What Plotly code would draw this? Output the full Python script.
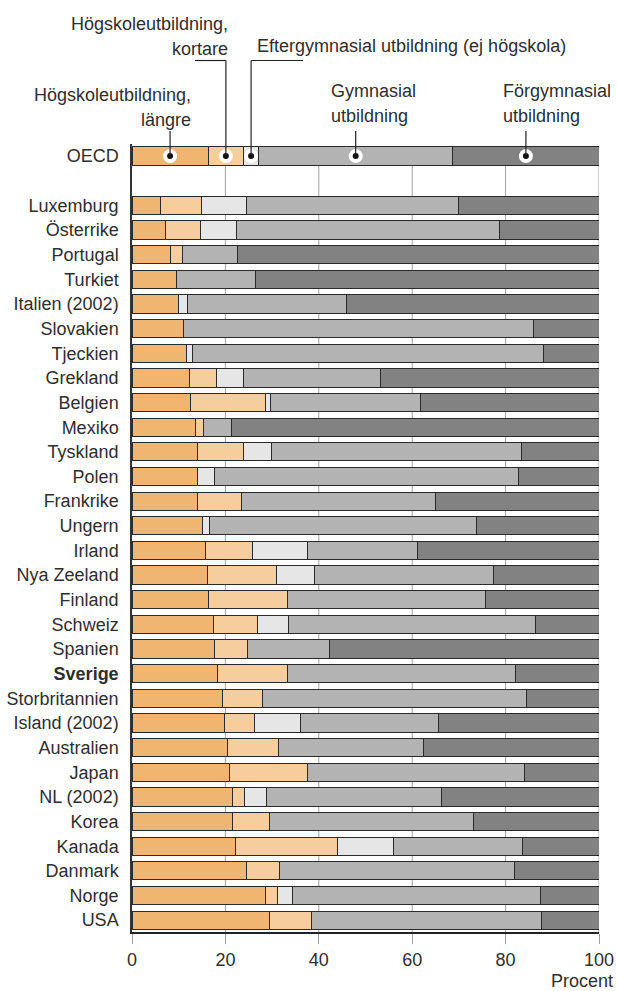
import plotly.graph_objects as go

# ---------------- data ----------------
categories = ["OECD", "Luxemburg", "Österrike", "Portugal", "Turkiet", "Italien (2002)",
              "Slovakien", "Tjeckien", "Grekland", "Belgien", "Mexiko", "Tyskland", "Polen",
              "Frankrike", "Ungern", "Irland", "Nya Zeeland", "Finland", "Schweiz", "Spanien",
              "Sverige", "Storbritannien", "Island (2002)", "Australien", "Japan", "NL (2002)",
              "Korea", "Kanada", "Danmark", "Norge", "USA"]

hogskola_langre = [16.3, 6.0, 7.2, 8.2, 9.6, 10.0, 11.0, 11.6, 12.4, 12.6, 13.6, 14.0, 14.1,
                   14.1, 15.0, 15.7, 16.2, 16.3, 17.4, 17.6, 18.4, 19.3, 19.9, 20.5, 20.8,
                   21.6, 21.6, 22.1, 24.6, 28.5, 29.5]
hogskola_kortare = [7.6, 8.9, 7.4, 2.6, None, None, None, None, 5.6, 16.0, 1.7, 9.9, None,
                    9.3, None, 10.1, 14.7, 17.0, 9.5, 7.1, 15.0, 8.6, 6.4, 10.8, 16.7,
                    2.5, 7.9, 21.9, 6.9, 2.6, 9.0]
eftergymnasial = [3.2, 9.6, 7.7, None, None, 1.8, None, 1.4, 5.8, 1.0, None, 5.9, 3.5,
                  None, 1.7, 11.7, 8.1, None, 6.7, None, None, None, 9.8, None, None,
                  4.6, None, 12.0, None, 3.3, None]
gymnasial = [41.6, 45.4, 56.4, 11.7, 16.9, 34.1, 74.9, 75.2, 29.5, 32.1, 6.1, 53.6, 65.1,
             41.5, 57.1, 23.6, 38.5, 42.5, 52.9, 17.6, 48.8, 56.5, 29.6, 31.2, 46.6,
             37.5, 43.7, 27.7, 50.3, 53.1, 49.1]
forgymnasial = [31.3, 30.1, 21.3, 77.5, 73.5, 54.1, 14.1, 11.8, 46.7, 38.3, 78.6, 16.6, 17.3,
                35.1, 26.2, 38.9, 22.5, 24.2, 13.5, 57.7, 17.8, 15.6, 34.3, 37.5, 15.9,
                33.8, 26.8, 16.3, 18.2, 12.5, 12.4]

series_names = ["Högskoleutbildning, längre", "Högskoleutbildning, kortare",
                "Eftergymnasial utbildning (ej högskola)", "Gymnasial utbildning",
                "Förgymnasial utbildning"]
x_ticks = [0, 20, 40, 60, 80, 100]
x_label = "Procent"
bold_category = "Sverige"

# ---------------- style ----------------
colors = ["#F0B571", "#F6CE9D", "#E6E6E6", "#B3B3B3", "#828282"]
FONT = "Liberation Sans, Arial, sans-serif"
TXT = "#2e2e2e"
W, H = 617, 991
L, R, T, B = 132, 18, 144, 59
PW, PH = W - L - R, H - T - B


def py(pix):  # pixel y -> paper y
    return (H - B - pix) / PH


def pxp(pix):  # pixel x -> paper x
    return (pix - L) / PW


GAP = " "
y_cats = [categories[0], GAP] + categories[1:]


def with_gap(vals):
    return [vals[0], None] + list(vals[1:])


all_series = [hogskola_langre, hogskola_kortare, eftergymnasial, gymnasial, forgymnasial]

fig = go.Figure()
for name, vals, col in zip(series_names, all_series, colors):
    fig.add_trace(go.Bar(
        y=y_cats, x=with_gap(vals), orientation="h", name=name,
        marker=dict(color=col, line=dict(color="#2a2a2a", width=1)),
        showlegend=False, hoverinfo="x+name"))

# marker dots on OECD bar (segment midpoints)
mids = []
cum = 0.0
for vals in all_series:
    v = vals[0] or 0
    mids.append(cum + v / 2)
    cum += v

fig.add_trace(go.Scatter(x=mids, y=[categories[0]] * len(mids), mode="markers",
                         marker=dict(size=14, color="white"), cliponaxis=False,
                         showlegend=False, hoverinfo="skip"))
fig.add_trace(go.Scatter(x=mids, y=[categories[0]] * len(mids), mode="markers",
                         marker=dict(size=6, color="#111111"), cliponaxis=False,
                         showlegend=False, hoverinfo="skip"))

shapes = []
# grid lines (below OECD bar down to axis)
for t in x_ticks[1:]:
    shapes.append(dict(type="line", xref="x", yref="paper", x0=t, x1=t,
                       y0=0, y1=py(165.5), line=dict(color="#a0a0a0", width=1),
                       layer="below"))

# leader lines
LINE = dict(color="#222222", width=1.2)
dot_y = py(156)
top_short = py(131)
top_long = py(60.5)
shapes.append(dict(type="line", xref="paper", yref="paper", x0=mids[0] / 100, x1=mids[0] / 100,
                   y0=top_short, y1=dot_y, line=LINE))
shapes.append(dict(type="line", xref="paper", yref="paper", x0=mids[1] / 100, x1=mids[1] / 100,
                   y0=top_long, y1=dot_y, line=LINE))
shapes.append(dict(type="line", xref="paper", yref="paper", x0=pxp(195), x1=mids[1] / 100,
                   y0=top_long, y1=top_long, line=LINE))
shapes.append(dict(type="line", xref="paper", yref="paper", x0=mids[2] / 100, x1=mids[2] / 100,
                   y0=top_long, y1=dot_y, line=LINE))
shapes.append(dict(type="line", xref="paper", yref="paper", x0=mids[2] / 100, x1=pxp(303),
                   y0=top_long, y1=top_long, line=LINE))
shapes.append(dict(type="line", xref="paper", yref="paper", x0=mids[3] / 100, x1=mids[3] / 100,
                   y0=top_short, y1=dot_y, line=LINE))
shapes.append(dict(type="line", xref="paper", yref="paper", x0=mids[4] / 100, x1=mids[4] / 100,
                   y0=top_short, y1=dot_y, line=LINE))

label_lines = [
    ("Högskoleutbildning,", 230, 24, "right"),
    ("kortare", 230, 49, "right"),
    ("Eftergymnasial utbildning (ej högskola)", 255, 46, "left"),
    ("Högskoleutbildning,", 193, 95, "right"),
    ("längre", 193, 120, "right"),
    ("Gymnasial", 329, 91, "left"),
    ("utbildning", 329, 116, "left"),
    ("Förgymnasial", 501, 91, "left"),
    ("utbildning", 501, 116, "left"),
]
annotations = []
for text, xpix, ypix, anchor in label_lines:
    annotations.append(dict(text=text, xref="paper", yref="paper", x=pxp(xpix), y=py(ypix),
                            xanchor=anchor, yanchor="middle", showarrow=False,
                            font=dict(family=FONT, size=18, color=TXT)))
annotations.append(dict(text=x_label, xref="paper", yref="paper", x=pxp(615), y=py(981),
                        xanchor="right", yanchor="middle", showarrow=False,
                        font=dict(family=FONT, size=18, color=TXT)))

ticktext = [("<b>%s</b>" % c) if c == bold_category else c for c in y_cats]

fig.update_layout(
    width=W, height=H, barmode="stack", bargap=0.26,
    margin=dict(l=L, r=R, t=T, b=B, autoexpand=False),
    paper_bgcolor="white", plot_bgcolor="white",
    font=dict(family=FONT, size=18, color=TXT),
    shapes=shapes, annotations=annotations,
    xaxis=dict(range=[0, 100], tickvals=x_ticks, showgrid=False, zeroline=False,
               showline=True, linecolor="#222222", linewidth=2,
               ticks="outside", ticklen=10, tickcolor="#a0a0a0", tickwidth=1,
               tickfont=dict(family=FONT, size=18, color=TXT)),
    yaxis=dict(type="category", categoryorder="array", categoryarray=y_cats,
               range=[len(y_cats) - 1 + 0.48, -0.49], autorange=False,
               tickvals=y_cats, ticktext=ticktext, showgrid=False, zeroline=False,
               showline=True, linecolor="#333333", linewidth=1.5, ticks="",
               ticklabelstandoff=8, tickfont=dict(family=FONT, size=18, color=TXT)),
)

fig.write_html("out.html", config={"displayModeBar": False},
               post_script="document.body.style.margin='0px';document.body.style.padding='0px';")
